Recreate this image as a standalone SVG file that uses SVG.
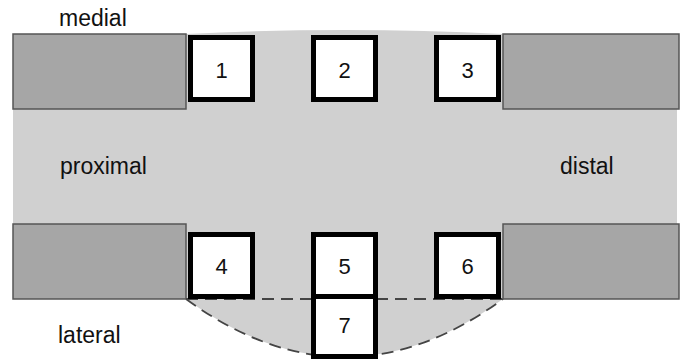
<svg xmlns="http://www.w3.org/2000/svg" width="680" height="361" viewBox="0 0 680 361">
<style>
.bar{fill:#a6a6a6;stroke:#555;stroke-width:1.5}
.box{fill:#fff;stroke:#000;stroke-width:5}
.lbl{font-family:"Liberation Sans",Arial,sans-serif;font-size:23px;fill:#111}
.num{font-family:"Liberation Sans",Arial,sans-serif;font-size:22px;fill:#111;text-anchor:middle;dominant-baseline:central}
.dash{fill:none;stroke:#444;stroke-width:1.8;stroke-dasharray:12 7}
</style>
<rect width="680" height="361" fill="#fff"/>
<path id="space" d="M13,109 L186,109 L186,34 Q345,26 503,34 L503,109 L677,109 L677,224 L503,224 L503,299 Q345,415 186,299 L186,224 L13,224 Z" fill="#d0d0d0"/>
<g id="bars">
<rect class="bar" x="13" y="34" width="173" height="75"/>
<rect class="bar" x="503" y="34" width="176" height="75"/>
<rect class="bar" x="13" y="224" width="173" height="75"/>
<rect class="bar" x="503" y="224" width="176" height="75"/>
</g>
<g id="connectors">
<path class="dash" d="M186,299 L503,299"/>
<path class="dash" d="M186,299 Q345,415 503,299"/>
</g>
<g id="n1"><rect class="box" x="190.5" y="37.5" width="62" height="62"/><text class="num" x="221.5" y="70">1</text></g>
<g id="n2"><rect class="box" x="313.5" y="37.5" width="62" height="62"/><text class="num" x="344.5" y="70">2</text></g>
<g id="n3"><rect class="box" x="436.5" y="37.5" width="62" height="62"/><text class="num" x="467.5" y="70">3</text></g>
<g id="n4"><rect class="box" x="190.5" y="234.5" width="62" height="62"/><text class="num" x="221.5" y="266">4</text></g>
<g id="n5"><rect class="box" x="313.5" y="234.5" width="62" height="62"/><text class="num" x="344.5" y="266">5</text></g>
<g id="n6"><rect class="box" x="436.5" y="234.5" width="62" height="62"/><text class="num" x="467.5" y="266">6</text></g>
<g id="n7"><rect class="box" x="313.5" y="296.5" width="62" height="60"/><text class="num" x="344.5" y="325">7</text></g>
<text class="lbl" x="59" y="26">medial</text>
<text class="lbl" x="60" y="174">proximal</text>
<text class="lbl" x="560" y="174">distal</text>
<text class="lbl" x="58" y="343">lateral</text>
</svg>
